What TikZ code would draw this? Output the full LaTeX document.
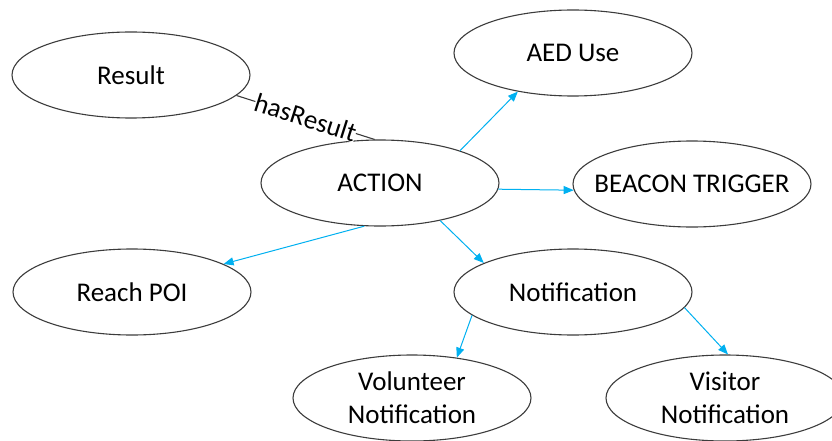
\documentclass[tikz,border=0pt]{standalone}
\usepackage{fontspec}
\setmainfont{Carlito}
\usetikzlibrary{arrows.meta,shapes.geometric}
\definecolor{edgeblue}{RGB}{0,176,240}
\definecolor{rim}{RGB}{60,60,60}
\tikzset{
  concept/.style={ellipse, draw=rim, line width=1.1pt, fill=white,
    minimum width=238pt, minimum height=86pt,
    inner xsep=-40pt, inner ysep=-12pt,
    align=center, font=\fontsize{27}{33}\selectfont},
  link/.style={draw=edgeblue, line width=1pt,
    -{Triangle[length=10pt,width=8pt]}},
  relation/.style={draw=rim, line width=1.1pt},
  rellabel/.style={font=\fontsize{27}{30}\selectfont, fill=white,
    inner sep=0pt, sloped}
}
\begin{document}
\begin{tikzpicture}[x=1pt,y=-1pt]
  \useasboundingbox (0,0) rectangle (832,441);
  \clip (0,0) rectangle (832,441);

  \node[concept] (result)  at (131,75)  {Result};
  \node[concept] (aed)     at (573,53)  {AED Use};
  \node[concept] (action)  at (380,183) {ACTION};
  \node[concept] (beacon)  at (692,184) {BEACON TRIGGER};
  \node[concept] (reach)   at (132,292) {Reach POI};
  \node[concept] (notif)   at (573,292) {Notification};
  \node[concept] (volunt)  at (412,398) {Volunteer\\Notification};
  \node[concept] (visitor) at (725,398) {Visitor\\Notification};

  % named relation between Result and ACTION
  \draw[relation] (result.-11) -- node[rellabel] {hasResult} (action.97);

  % sub-type arrows
  \draw[link] (action.22)  -- (aed.215);
  \draw[link] (action.-3)  -- (beacon.183);
  \draw[link] (action.250) -- (reach.17);
  \draw[link] (action.-32) -- (notif.162);
  \draw[link] (notif.193)  -- (volunt.42);
  \draw[link] (notif.-8)   -- (visitor.86);
\end{tikzpicture}
\end{document}
